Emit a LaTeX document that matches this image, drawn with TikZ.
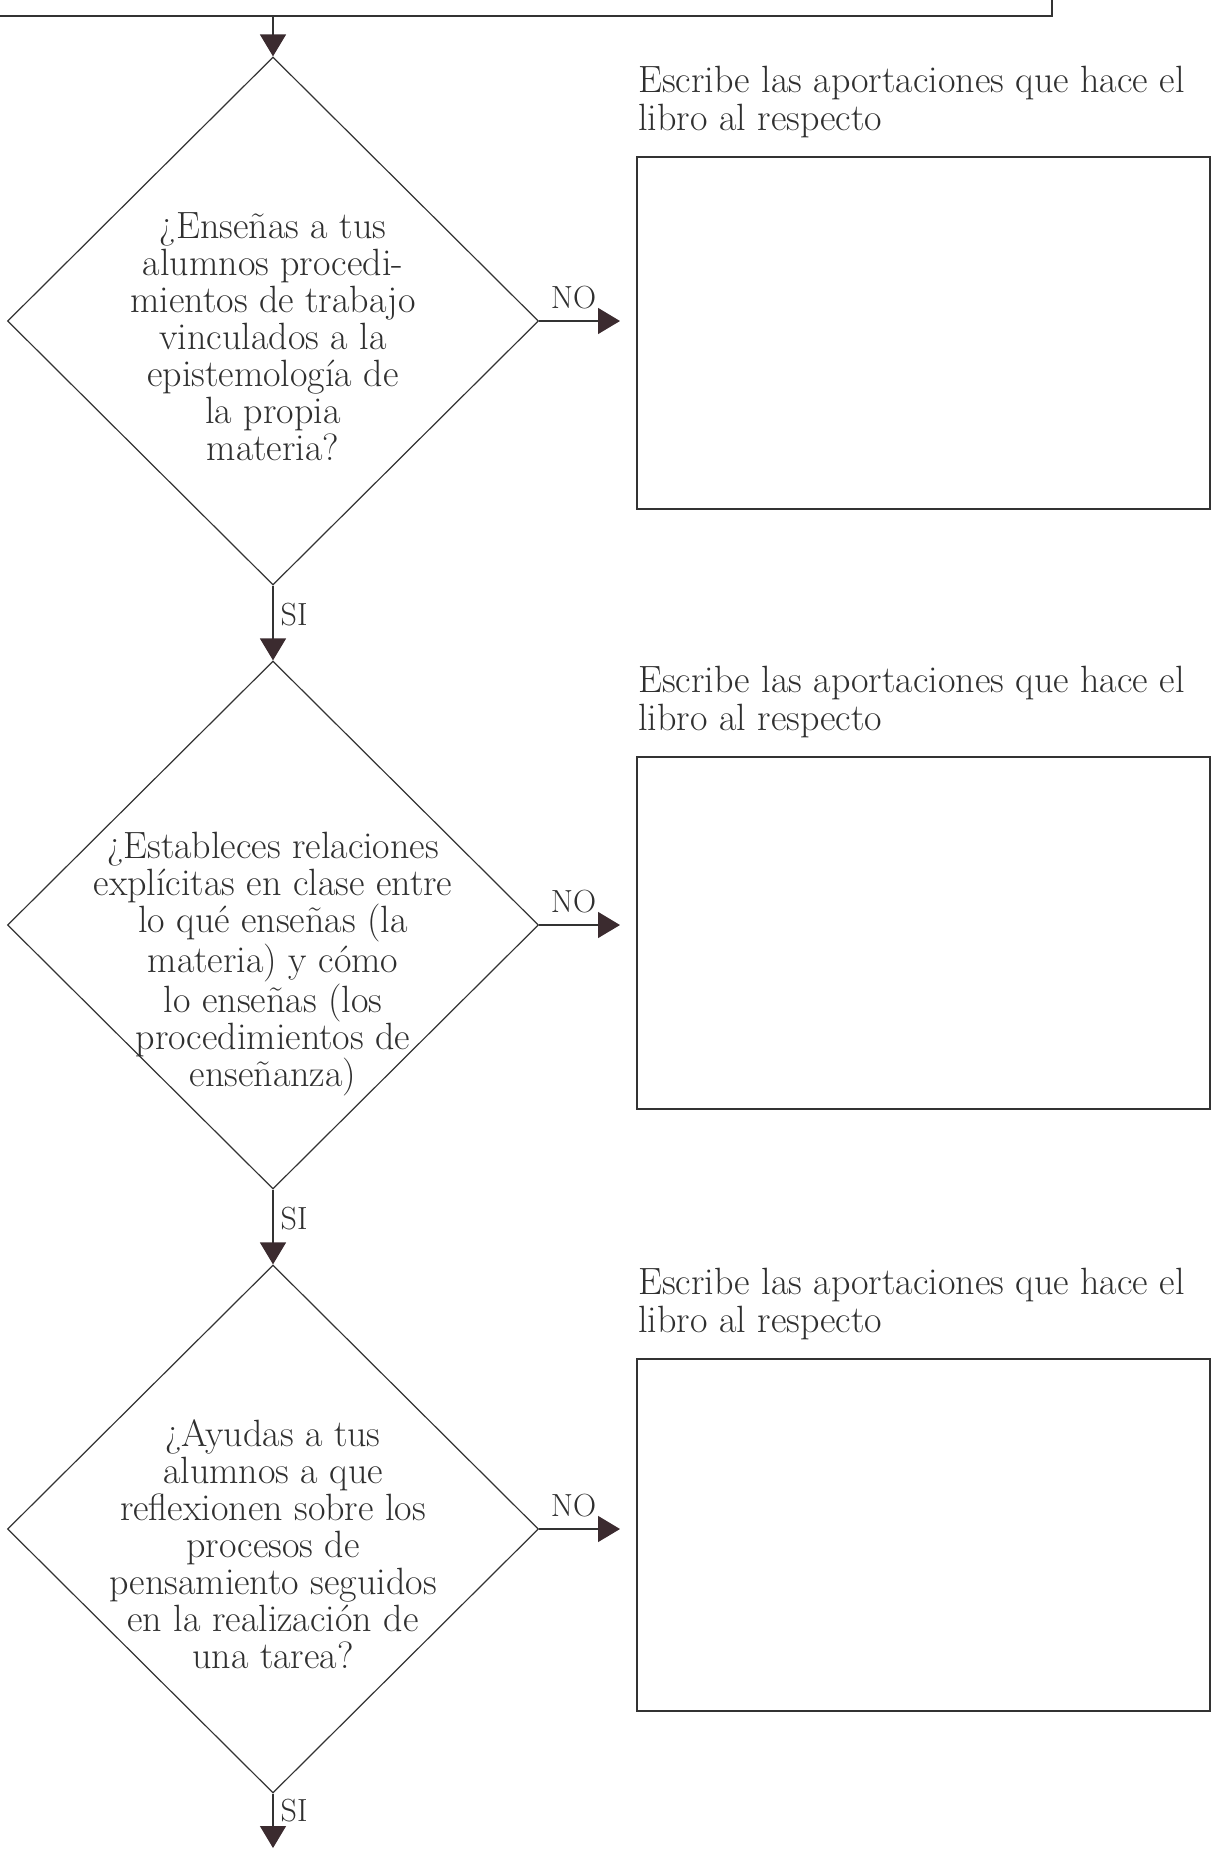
\documentclass[tikz,border=0pt]{standalone}
\usepackage{tikz}
\usetikzlibrary{shapes.geometric,arrows.meta,positioning}

\definecolor{ink}{HTML}{333333}
\definecolor{txt}{HTML}{2F2F2F}
\definecolor{tipcol}{HTML}{3B2B2F}

\tikzset{
  question/.style={draw=ink, line width=0.6pt, diamond, minimum width=265.5pt, minimum height=264pt, inner sep=0pt},
  qtext/.style={align=center, text=txt, inner sep=0pt, font=\fontsize{19}{18.5}\selectfont},
  answer/.style={draw=ink, line width=0.8pt, rectangle, anchor=north west, minimum width=286.5pt, minimum height=176pt, inner sep=0pt},
  caption/.style={align=left, text=txt, inner sep=0pt, font=\fontsize{19}{19}\selectfont},
  flow/.style={draw=ink, line width=0.7pt, -{Triangle[length=11pt, width=13pt, color=tipcol]}},
  tag/.style={text=txt, inner sep=0pt, font=\fontsize{16}{17}\selectfont}
}

\begin{document}
\begin{tikzpicture}[x=0.5pt, y=-0.5pt]
  \useasboundingbox (0,0) rectangle (1217,1860);
  \clip (0,0) rectangle (1217,1860);

  % box of the step before, cut by the page edge
  \node[draw=ink, line width=0.8pt, anchor=south east, minimum width=650pt, minimum height=60pt] (prev) at (1053,17) {};

  % the three questions
  \node[question] (q1) at (273,321) {};
  \node[qtext] (t1) at ([yshift=-8pt]q1.center) {¿Enseñas a tus\\alumnos procedi-\\mientos de trabajo\\vinculados a la\\epistemología de\\la propia\\materia?};

  \node[question] (q2) at (273,925) {};
  \node[qtext] (t2) at ([yshift=-19.5pt]q2.center) {¿Estableces relaciones\\explícitas en clase entre\\lo qué enseñas (la\\materia) y cómo\\lo enseñas (los\\procedimientos de\\enseñanza)};

  \node[question] (q3) at (273,1529) {};
  \node[qtext] (t3) at ([yshift=-7.5pt]q3.center) {¿Ayudas a tus\\alumnos a que\\reflexionen sobre los\\procesos de\\pensamiento seguidos\\en la realización de\\una tarea?};

  % boxes to write in
  \node[answer] (b1) at (636,156) {};
  \node[caption, above right=9pt and 1pt of b1.north west] (c1) {Escribe las aportaciones que hace el\\libro al respecto};

  \node[answer] (b2) at (636,756) {};
  \node[caption, above right=9pt and 1pt of b2.north west] (c2) {Escribe las aportaciones que hace el\\libro al respecto};

  \node[answer] (b3) at (636,1358) {};
  \node[caption, above right=9pt and 1pt of b3.north west] (c3) {Escribe las aportaciones que hace el\\libro al respecto};

  % arrows
  \coordinate (out) at (273,1848);
  \draw[flow] (prev.south -| q1.north) -- (q1.north);
  \draw[flow, shorten >=8pt] (q1.east) -- (q1.east -| b1.west) node[tag, midway, above=5.5pt, xshift=-7pt] (no1) {NO};
  \draw[flow] (q1.south) -- (q2.north) node[tag, midway, right=3.5pt, yshift=4pt] (si1) {SI};
  \draw[flow, shorten >=8pt] (q2.east) -- (q2.east -| b2.west) node[tag, midway, above=5.5pt, xshift=-7pt] (no2) {NO};
  \draw[flow] (q2.south) -- (q3.north) node[tag, midway, right=3.5pt, yshift=4pt] (si2) {SI};
  \draw[flow, shorten >=8pt] (q3.east) -- (q3.east -| b3.west) node[tag, midway, above=5.5pt, xshift=-7pt] (no3) {NO};
  \draw[flow] (q3.south) -- (out) node[tag, midway, right=3.5pt, yshift=5pt] (si3) {SI};
\end{tikzpicture}
\end{document}
